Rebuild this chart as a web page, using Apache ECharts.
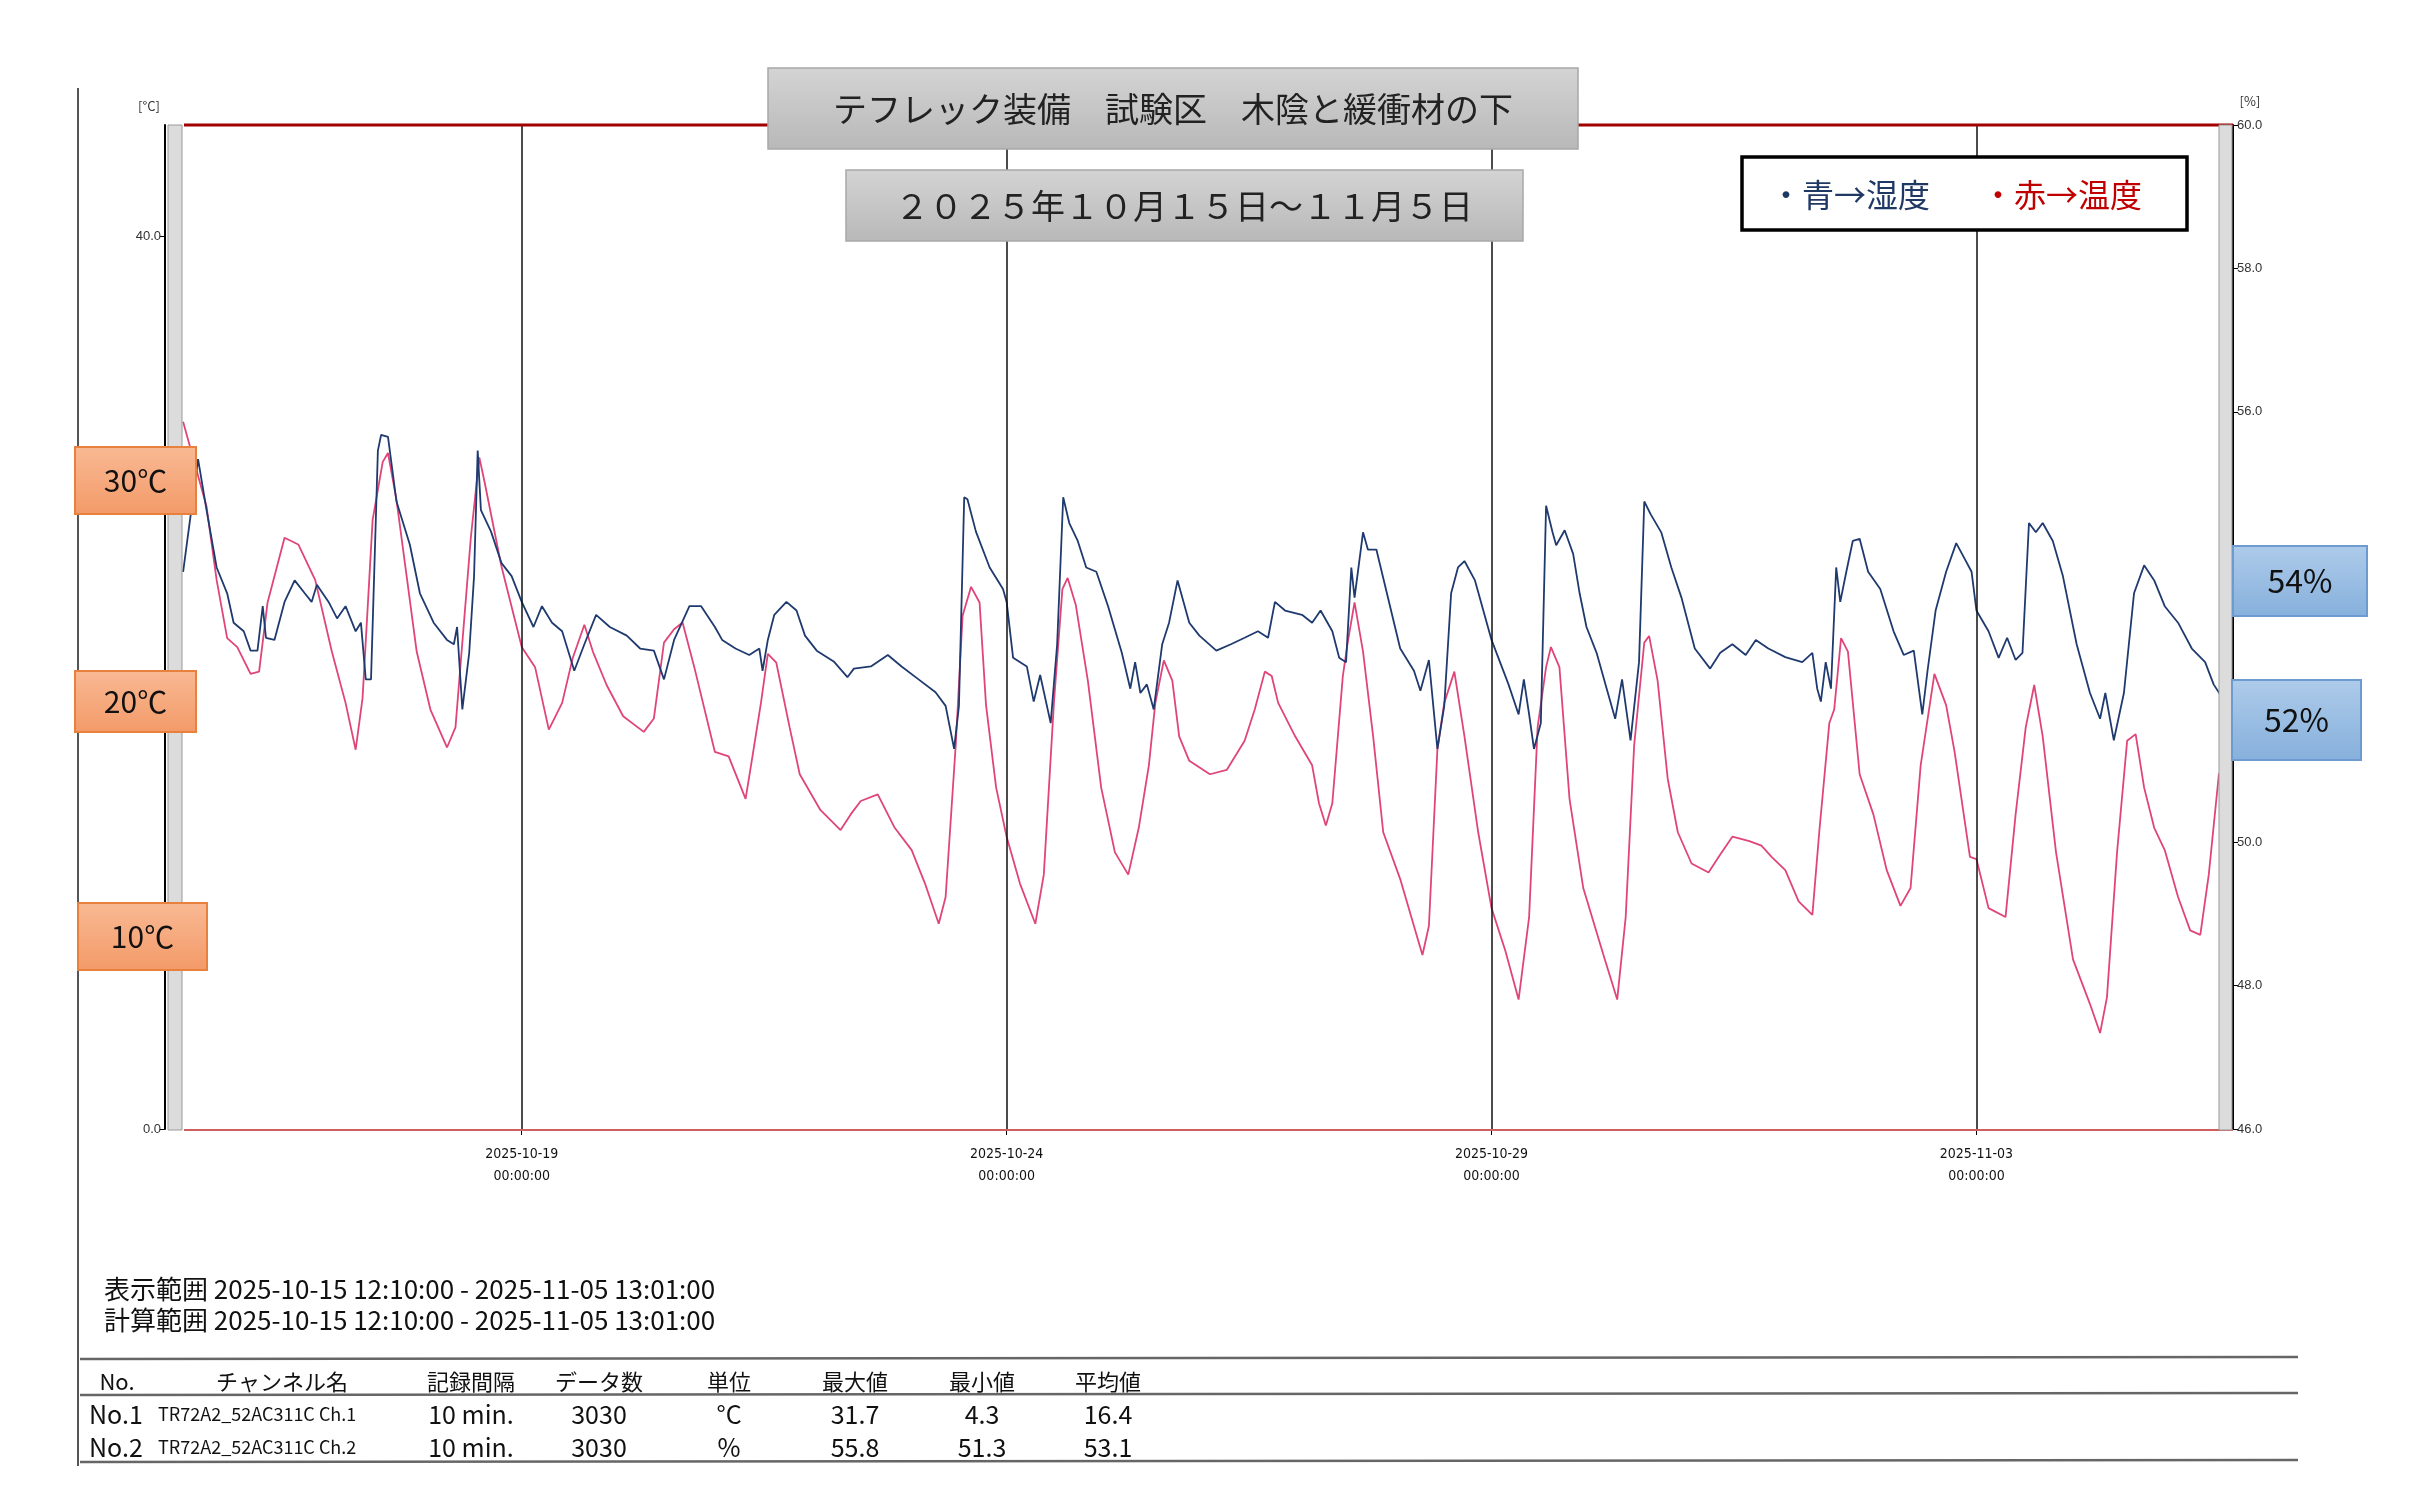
<!DOCTYPE html>
<html><head><meta charset="utf-8">
<script src="https://cdn.jsdelivr.net/npm/echarts@6/dist/echarts.min.js"></script>
<style>html,body{margin:0;padding:0;background:#fff}#c{width:2409px;height:1508px}</style>
</head><body><div id="c"></div>
<script>
// hours since 2025-10-15 00:00
const tempHours = [12.2,18.0,20.5,23.1,25.6,28.9,31.0,33.1,37.3,40.7,44.9,49.0,52.4,54.9,56.6,59.1,61.6,62.9,65.0,70.0,73.4,77.5,79.6,83.4,85.5,86.8,91.0,96.0,99.3,102.7,106.0,108.6,111.5,113.6,117.0,121.1,126.2,128.7,131.2,133.7,135.8,138.7,143.8,
147.2,151.4,153.1,155.2,156.9,159.0,162.3,164.8,169.9,174.9,177.4,179.9,184.1,188.3,192.5,195.8,199.2,200.9,203.4,205.1,207.2,209.3,210.9,213.4,216.0,219.3,223.1,225.2,227.7,229.8,231.1,233.1,236.1,239.4,242.8,246.1,248.7,251.2,252.8,254.9,257.0,258.7,261.2,266.3,270.5,
274.9,277.4,279.9,281.6,283.2,287.4,291.6,293.3,295.0,296.6,299.2,300.4,302.1,304.2,306.7,309.2,313.4,316.8,318.9,320.5,322.6,324.3,326.8,329.3,332.7,336.0,339.4,342.7,345.3,347.4,349.5,350.7,352.8,355.3,358.7,363.7,367.1,369.2,371.3,373.8,375.0,377.1,379.6,382.1,385.5,389.7,392.6,395.6,399.8,
402.8,405.3,408.7,412.0,415.4,417.1,419.6,420.8,422.5,424.2,427.1,430.5,433.8,437.2,439.7,442.2,445.6,448.5,450.6,454.4,456.0,459.0,463.2,465.7,468.2,470.3,472.4,475.7,479.9,484.1,486.6,488.3,490.8,493.3,495.4,497.5,500.0,502.6,505.9,508.9,511.4,513.5,516.0,517.0];
const tempValues = [31.7,27.9,24.6,22.0,21.6,20.4,20.5,23.6,26.5,26.2,24.6,21.4,19.1,17.0,19.3,27.3,29.9,30.3,28.2,21.4,18.8,17.1,18.0,26.5,30.1,29.0,25.2,21.6,20.7,17.9,19.1,21.1,22.6,21.4,19.9,18.5,17.8,18.4,21.8,22.4,22.7,20.7,16.9,
16.7,14.8,16.7,19.1,21.3,20.9,18.0,15.9,14.3,13.4,14.1,14.7,15.0,13.5,12.5,11.0,9.2,10.4,17.2,23.0,24.3,23.6,19.0,15.3,13.1,11.0,9.2,11.4,19.1,24.2,24.7,23.5,20.1,15.3,12.4,11.4,13.5,16.3,19.1,21.0,20.1,17.6,16.5,15.9,16.1,
17.4,18.8,20.5,20.3,19.1,17.6,16.3,14.6,13.6,14.6,20.3,21.8,23.6,21.4,17.6,13.3,11.2,9.1,7.8,9.1,17.0,19.1,20.5,17.6,13.3,9.9,8.0,5.8,9.5,18.0,20.7,21.6,20.7,14.8,10.8,7.8,5.8,9.5,17.2,21.8,22.1,20.1,15.7,13.3,11.9,11.5,12.3,13.1,12.9,
12.7,12.2,11.6,10.2,9.6,13.3,18.2,18.8,22.0,21.4,15.9,14.1,11.6,10.0,10.8,16.3,20.4,19.0,16.9,12.2,12.1,9.9,9.5,14.1,18.0,19.9,17.6,12.4,7.6,5.6,4.3,5.9,12.4,17.4,17.7,15.3,13.5,12.5,10.4,8.9,8.7,11.4,15.9,16.2];
const humHours = [12.2,15.9,18.0,20.5,23.1,24.7,27.2,28.9,30.6,31.9,32.7,34.8,37.3,39.8,42.3,44.0,45.3,48.2,50.3,52.4,54.9,56.2,57.4,58.7,60.4,61.2,62.9,65.0,68.3,70.8,74.2,77.5,79.2,80.0,81.3,83.0,84.2,85.1,85.9,88.4,91.0,93.5,96.0,98.9,101.0,103.5,106.0,109.0,111.5,114.4,117.8,122.0,125.3,128.7,131.2,133.7,137.5,140.4,143.8,
145.6,148.9,152.3,154.8,155.6,156.9,158.5,161.5,164.0,166.1,169.0,173.2,176.6,178.2,182.4,186.6,190.0,194.2,198.4,200.9,203.0,204.2,205.5,206.3,208.4,211.8,215.1,216.0,217.6,221.0,222.7,224.3,226.9,228.5,230.0,231.5,233.6,235.7,238.2,241.1,244.5,246.6,247.8,249.1,250.7,252.4,254.5,256.2,258.3,261.2,263.7,267.9,
271.5,274.9,278.2,280.7,282.4,284.9,289.1,291.6,293.7,296.6,298.3,300.0,301.3,302.1,304.2,305.4,307.5,309.6,313.4,316.8,318.4,320.5,322.6,324.3,326.0,327.7,329.3,331.9,336.0,340.2,342.7,344.0,345.3,346.5,348.2,349.5,351.1,352.0,354.1,356.2,357.8,359.5,362.0,364.5,366.6,368.3,370.4,372.5,373.8,375.4,378.0,380.5,383.0,386.3,390.1,392.6,395.6,398.9,401.4,
404.5,408.7,412.9,415.4,416.6,417.5,418.7,420.0,421.3,422.3,423.8,425.4,427.1,429.2,432.2,435.5,438.0,440.5,442.6,443.9,445.9,448.5,451.0,453.1,454.8,456.0,459.0,461.5,463.6,465.7,467.4,469.0,470.7,472.4,474.9,477.4,480.8,484.1,486.6,487.9,490.0,492.5,495.0,497.5,500.0,502.6,505.9,509.3,512.6,514.7,517.0];
const humValues = [53.77,55.34,54.63,53.83,53.47,53.06,52.94,52.67,52.67,53.29,52.85,52.82,53.35,53.65,53.47,53.35,53.59,53.35,53.12,53.29,52.94,53.06,52.27,52.27,55.46,55.68,55.65,54.75,54.15,53.47,53.06,52.82,52.76,53.0,51.85,52.64,53.71,55.46,54.63,54.33,53.89,53.71,53.35,53.0,53.29,53.06,52.94,52.39,52.76,53.17,53.0,52.88,52.7,52.67,52.27,52.82,53.29,53.29,53.0,
52.82,52.7,52.61,52.7,52.39,52.82,53.17,53.35,53.23,52.88,52.67,52.52,52.3,52.42,52.45,52.61,52.45,52.27,52.09,51.9,51.3,51.9,54.81,54.78,54.33,53.83,53.53,53.35,52.57,52.45,51.96,52.33,51.66,52.76,54.81,54.45,54.2,53.83,53.77,53.29,52.64,52.14,52.51,52.08,52.2,51.85,52.76,53.06,53.65,53.06,52.88,52.67,
52.76,52.85,52.94,52.85,53.35,53.23,53.17,53.06,53.23,52.94,52.57,52.51,53.83,53.41,54.32,54.08,54.08,53.59,52.7,52.39,52.11,52.54,51.3,51.9,53.47,53.83,53.92,53.65,52.82,52.2,51.78,52.27,51.78,51.3,51.66,54.69,54.32,54.14,54.35,54.02,53.47,53.0,52.64,52.14,51.72,52.27,51.42,52.51,54.75,54.57,54.32,53.83,53.41,52.7,52.42,52.64,52.76,52.61,52.82,
52.7,52.58,52.51,52.64,52.14,51.96,52.51,52.14,53.83,53.35,53.77,54.2,54.23,53.77,53.53,52.94,52.61,52.67,51.78,52.39,53.23,53.77,54.17,53.95,53.77,53.23,52.94,52.57,52.85,52.54,52.64,54.45,54.32,54.45,54.2,53.71,52.76,52.08,51.72,52.08,51.42,52.08,53.47,53.86,53.65,53.29,53.06,52.7,52.51,52.2,52.0];
const xTickHours = [96,216,336,456];
const xTickLabels = ['2025-10-19\n00:00:00','2025-10-24\n00:00:00','2025-10-29\n00:00:00','2025-11-03\n00:00:00'];
const tempLabelTicks = [0,40];
const titleText = 'テフレック装備　試験区　木陰と緩衝材の下';
const periodText = '２０２５年１０月１５日～１１月５日';
const tableHeader = ['No.','チャンネル名','記録間隔','データ数','単位','最大値','最小値','平均値'];
const tableRows = [
  ['No.1','TR72A2_52AC311C Ch.1','10 min.','3030','°C','31.7','4.3','16.4'],
  ['No.2','TR72A2_52AC311C Ch.2','10 min.','3030','%','55.8','51.3','53.1']];
const rangeLines = ['表示範囲 2025-10-15 12:10:00 - 2025-11-05 13:01:00','計算範囲 2025-10-15 12:10:00 - 2025-11-05 13:01:00'];

const JP = '"Noto Sans CJK JP", "Noto Sans", sans-serif';
const tempData = tempHours.map((h,i)=>[h,tempValues[i]]);
const humData = humHours.map((h,i)=>[h,humValues[i]]);

const g = [];
function txt(x,y,t,size,color,align){g.push({type:'text',x:x,y:y,z:20,style:{text:t,font:size+'px '+JP,fill:color||'#111',textAlign:align||'left',textVerticalAlign:'middle'}});}
function rect(x,y,w,h,fill,stroke,lw){g.push({type:'rect',z:15,shape:{x:x,y:y,width:w,height:h},style:{fill:fill,stroke:stroke,lineWidth:lw||1.5}});}
function line(x1,y1,x2,y2,c,w){g.push({type:'line',z:12,shape:{x1:x1,y1:y1,x2:x2,y2:y2},style:{stroke:c,lineWidth:w}});}
function grad(a,b){return {type:'linear',x:0,y:0,x2:0,y2:1,colorStops:[{offset:0,color:a},{offset:1,color:b}]};}

// frame decorations
line(78,88,78,1466,'#555',2);
rect(168,125,14,1005,'#dcdcdc','#999',1);
rect(2219,125,13,1005,'#dcdcdc','#999',1);
line(184,125,2233,125,'#a00000',3);
line(184,1130,2233,1130,'#d06060',2);
txt(149,106,'[°C]',13,'#333','center');
txt(2250,101,'[%]',13,'#333','center');
// title boxes
rect(768,68,810,81,grad('#d4d4d4','#b8b8b8'),'#a8a8a8',1.5);
txt(1173,109,titleText,34,'#222','center');
rect(846,170,677,71,grad('#d4d4d4','#b8b8b8'),'#a8a8a8',1.5);
txt(1184,206,periodText,34,'#222','center');
// legend
rect(1742,157,445,73,'#fff','#000',3.5);
txt(1770,195,'・青→湿度',32,'#1f3864','left');
txt(1982,195,'・赤→温度',32,'#c00000','left');
// orange boxes
[[75,447,121,67,'30℃'],[75,671,121,61,'20℃'],[78,903,129,67,'10℃']].forEach(b=>{rect(b[0],b[1],b[2],b[3],grad('#f9b994','#f39a68'),'#e8803e',2);txt(b[0]+b[2]/2,b[1]+b[3]/2,b[4],30,'#111','center');});
// blue boxes
[[2233,546,134,70,'54%'],[2232,680,129,80,'52%']].forEach(b=>{rect(b[0],b[1],b[2],b[3],grad('#aecbea','#86b0dc'),'#6d9bcf',2);txt(b[0]+b[2]/2,b[1]+b[3]/2,b[4],32,'#111','center');});
// range lines
txt(104,1289,rangeLines[0],26,'#111','left');
txt(104,1320,rangeLines[1],26,'#111','left');
// table
line(80,1359,2298,1357,'#666',2.5);
line(80,1395,2298,1393,'#666',2.5);
line(80,1462,2298,1460,'#666',2.5);
const colX = [117,282,471,599,729,855,982,1108];
tableHeader.forEach((h,i)=>txt(colX[i],1382,h,22,'#111','center'));
tableRows.forEach((r,j)=>{const y=j?1447:1414;
  txt(89,y,r[0],25,'#111','left');
  txt(158,y,r[1],18,'#111','left');
  for(let i=2;i<8;i++) txt(colX[i],y,r[i],25,'#111','center');});

const chart = echarts.init(document.getElementById('c'));
chart.setOption({
  backgroundColor:'#fff',
  animation:false,
  grid:{left:183,right:186,top:125,bottom:379},
  xAxis:{type:'value',min:12.17,max:517.02,
    axisLine:{show:false},
    axisTick:{show:true,customValues:xTickHours,length:6,lineStyle:{color:'#000'}},
    axisLabel:{customValues:xTickHours,fontSize:14,lineHeight:22,margin:14,color:'#111',fontFamily:'"Liberation Sans Narrow", "DejaVu Sans Condensed", sans-serif',
      formatter:function(v){const i=xTickHours.indexOf(Math.round(v));return i<0?'':xTickLabels[i];}},
    splitLine:{show:false}},
  yAxis:[
    {type:'value',min:0,max:45,interval:10,position:'left',offset:18,
     axisLine:{show:true,lineStyle:{color:'#000',width:2}},axisTick:{show:true,length:5,lineStyle:{color:'#000'}},
     axisLabel:{showMaxLabel:false,fontSize:13,color:'#333',margin:4,formatter:v=>tempLabelTicks.indexOf(v)>=0?v.toFixed(1):''},splitLine:{show:false}},
    {type:'value',min:46,max:60,interval:2,position:'right',offset:10,
     axisLine:{show:true,lineStyle:{color:'#000',width:2}},axisTick:{show:true,length:5,lineStyle:{color:'#000'}},
     axisLabel:{fontSize:13,color:'#333',margin:4,formatter:v=>v.toFixed(1)},splitLine:{show:false}}],
  series:[
    {name:'温度',type:'line',yAxisIndex:0,data:tempData,showSymbol:false,lineStyle:{color:'#e0457a',width:1.8},z:3,
     markLine:{silent:true,symbol:'none',label:{show:false},lineStyle:{color:'#111',width:1.5,type:'solid'},data:xTickHours.map(h=>({xAxis:h}))}},
    {name:'湿度',type:'line',yAxisIndex:1,data:humData,showSymbol:false,lineStyle:{color:'#1f3a6e',width:1.8},z:4}],
  graphic:g
});
</script></body></html>
